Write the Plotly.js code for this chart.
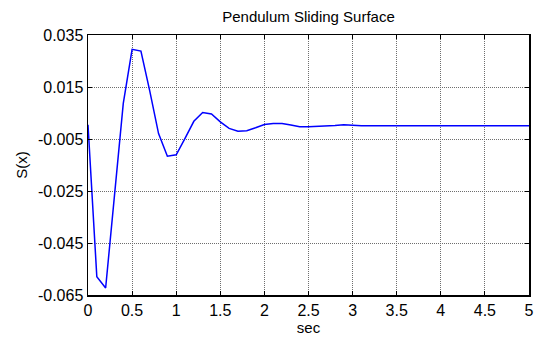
<!DOCTYPE html>
<html>
<head>
<meta charset="utf-8">
<script src="https://cdn.plot.ly/plotly-3.0.1.min.js"></script>
<style>html,body{margin:0;padding:0;background:#fff;}#chart{width:538px;height:339px;}</style>
</head>
<body>
<div id="chart"></div>
<script>
var timeSec = [0, 0.1, 0.2, 0.4, 0.5, 0.6, 0.7, 0.8, 0.9, 1.0, 1.1, 1.2, 1.3, 1.4, 1.5, 1.6, 1.7, 1.8, 1.9, 2.0, 2.1, 2.2, 2.3, 2.4, 2.5, 2.6, 2.7, 2.8, 2.9, 3.0, 3.1, 5.0];
var slidingS = [0.0005, -0.058, -0.0623, 0.0087, 0.0295, 0.0288, 0.0135, -0.0029, -0.0116, -0.0111, -0.0048, 0.0018, 0.0052, 0.0046, 0.0016, -0.0009, -0.002, -0.0018, -0.0007, 0.0006, 0.001, 0.001, 0.0004, -0.0003, -0.0003, -0.0002, -0.0001, 0.0002, 0.0005, 0.0004, 0.0001, 0.0001];
var xTicks = [0, 0.5, 1, 1.5, 2, 2.5, 3, 3.5, 4, 4.5, 5];
var xTickText = ['0', '0.5', '1', '1.5', '2', '2.5', '3', '3.5', '4', '4.5', '5'];
var yTicks = [-0.065, -0.045, -0.025, -0.005, 0.015, 0.035];
var yTickText = ['-0.065', '-0.045', '-0.025', '-0.005', '0.015', '0.035'];

var font = {family: 'Liberation Sans, Arial, sans-serif', size: 15, color: '#000'};
var tickFont = {family: 'Liberation Sans, Arial, sans-serif', size: 16, color: '#000'};
var axisCommon = {
  showline: true, linecolor: '#000', linewidth: 1.5, mirror: 'allticks',
  ticks: 'inside', ticklen: 4, tickcolor: '#000', tickwidth: 1,
  showgrid: true, gridcolor: '#6e6e6e', griddash: '1px,1px', gridwidth: 1,
  zeroline: false, tickfont: tickFont, automargin: false
};
var layout = {
  width: 538, height: 339,
  margin: {l: 88, r: 9, t: 35, b: 44},
  paper_bgcolor: '#fff', plot_bgcolor: '#fff',
  showlegend: false,
  font: font,
  title: {text: 'Pendulum Sliding Surface', font: font, x: 0.5, xref: 'paper', y: 0.95, yref: 'container', yanchor: 'middle'},
  xaxis: Object.assign({}, axisCommon, {
    range: [0, 5], tickmode: 'array', tickvals: xTicks, ticktext: xTickText,
    title: {text: 'sec', font: font, standoff: 1}
  }),
  yaxis: Object.assign({}, axisCommon, {
    range: [-0.065, 0.035], tickmode: 'array', tickvals: yTicks, ticktext: yTickText,
    title: {text: 'S(x)', font: font, standoff: 6}
  })
};
var trace = {x: timeSec, y: slidingS, type: 'scatter', mode: 'lines', line: {color: '#0000ff', width: 1.5}};
Plotly.newPlot('chart', [trace], layout, {displayModeBar: false, staticPlot: true});
</script>
</body>
</html>
